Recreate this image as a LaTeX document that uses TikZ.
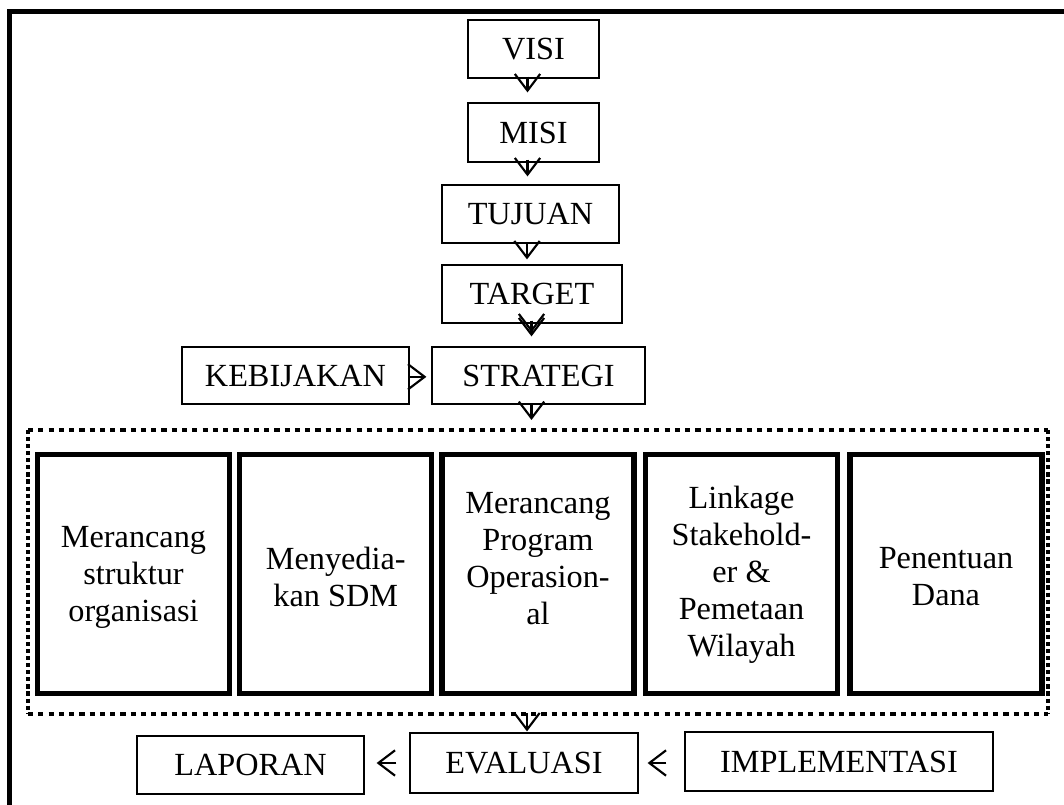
\documentclass[tikz,border=0pt]{standalone}
\usepackage{fontspec}
\setmainfont{Liberation Serif}
\usetikzlibrary{arrows.meta}
\begin{document}
\begin{tikzpicture}[x=0.75pt,y=-0.75pt,
  txt/.style={font=\fontsize{24.2}{27.75}\selectfont},
  box/.style={txt, draw, line width=0.9pt, inner sep=0pt, text height=16pt, text depth=0pt},
  thickbox/.style={draw, line width=4.1pt, inner sep=0pt, minimum width=144pt, minimum height=179.25pt},
  intext/.style={txt, align=center, inner sep=0pt},
  dotsh/.style={line width=3.7pt, dash pattern=on 3.9pt off 3.8pt},
  dotsv/.style={line width=3.4pt, dash pattern=on 3.1pt off 2.2pt},
  arr/.style={line width=1.6pt, -{Straight Barb[length=12.5pt, width=19pt]}},
]
\useasboundingbox (0,0) rectangle (1064,805);
\clip (0,0) rectangle (1064,805);

% outer frame
\draw[line width=4pt] (9.7,900) -- (9.7,11.5) -- (1200,11.5);

% column coordinates for arrows
\coordinate (ca) at (527.5,0);
\coordinate (cb) at (531.5,0);
\coordinate (cc) at (527,0);

% top chain
\node[box, minimum width=98.25pt, minimum height=43.5pt] (visi) at (533.5,49) {VISI};
\node[box, minimum width=98.25pt, minimum height=44.25pt] (misi) at (533.5,132.5) {MISI};
\node[box, minimum width=132.75pt, minimum height=43.5pt] (tujuan) at (530.5,214) {TUJUAN};
\node[box, minimum width=135pt, minimum height=43.5pt] (target) at (532,294) {TARGET};
\node[box, minimum width=170.25pt, minimum height=42.75pt] (kebijakan) at (295.5,375.5) {KEBIJAKAN};
\node[box, minimum width=159.75pt, minimum height=42.75pt] (strategi) at (538.5,375.5) {STRATEGI};

% dotted group frame
\node[minimum width=765pt, minimum height=213pt, inner sep=0pt, outer sep=0pt] (grp) at (538,572) {};
\draw[dotsh] (grp.north west) -- (grp.north east);
\draw[dotsh] (grp.south west) -- (grp.south east);
\draw[dotsv] (grp.north west) -- (grp.south west);
\draw[dotsv] (grp.north east) -- (grp.south east);

% inner thick boxes
\node[thickbox] (b1) at (133.5,574) {};
\node[thickbox] (b2) at (335.75,574) {};
\node[thickbox] (b3) at (538,574) {};
\node[thickbox] (b4) at (741.5,574) {};
\node[thickbox] (b5) at (946,574) {};
\node[intext] (t1) at (133.5,577) {Merancang\\struktur\\organisasi};
\node[intext] (t2) at (335.75,577) {Menyedia-\\kan SDM};
\node[intext] (t3) at (538,559) {Merancang\\Program\\Operasion-\\al};
\node[intext] (t4) at (741.5,575) {Linkage\\Stakehold-\\er \&\\Pemetaan\\Wilayah};
\node[intext] (t5) at (946,577) {Penentuan\\Dana};

% bottom row
\node[box, minimum width=170.25pt, minimum height=43.5pt] (laporan) at (250.5,765) {LAPORAN};
\node[box, minimum width=171pt, minimum height=45pt] (evaluasi) at (524,763) {EVALUASI};
\node[box, minimum width=231pt, minimum height=44.25pt] (impl) at (839,761.5) {IMPLEMENTASI};

% arrows
\draw[arr, shorten <=-1.5pt, shorten >=7.5pt] (visi.south -| ca) -- (misi.north -| ca);
\draw[arr, shorten <=-2.25pt, shorten >=6pt] (misi.south -| ca) -- (tujuan.north -| ca);
\draw[arr, shorten >=3.75pt] (tujuan.south -| cc) -- (target.north -| cc);
\draw[arr, shorten <=-2.25pt, shorten >=7.5pt] (target.south -| cb) -- (strategi.north -| cb);
\draw[arr, shorten <=-2.25pt, shorten >=10.5pt] (target.south -| cb) -- (strategi.north -| cb);
\draw[arr, shorten >=7.5pt] (strategi.south -| cb) -- (grp.north -| cb);
\draw[arr, shorten <=-0.75pt, shorten >=0.75pt] (grp.south -| cc) -- (evaluasi.north -| cc);
\draw[arr, shorten <=-0.75pt, shorten >=3.75pt] ([yshift=-1pt]kebijakan.east) -- ([yshift=-1pt]kebijakan.east -| strategi.west);
\draw[arr, shorten <=9.75pt, shorten >=9pt] (evaluasi.west) -- (evaluasi.west -| laporan.east);
\draw[arr, shorten <=13.5pt, shorten >=6.75pt] (impl.west |- evaluasi.east) -- (evaluasi.east);
\end{tikzpicture}
\end{document}
